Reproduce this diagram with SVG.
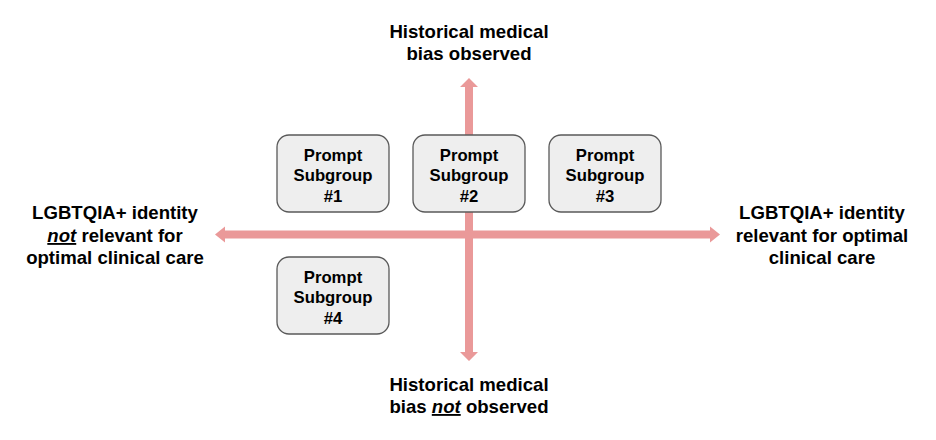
<svg xmlns="http://www.w3.org/2000/svg" width="936" height="440" viewBox="0 0 936 440">
<style>
.lbl{font-family:"Liberation Sans",Arial,sans-serif;font-weight:bold;font-size:18.6px;fill:#000;text-anchor:middle}
.bt{font-family:"Liberation Sans",Arial,sans-serif;font-weight:bold;font-size:16.7px;fill:#000;text-anchor:middle}
.box{fill:#eeeeee;stroke:#595959;stroke-width:1.3}
.arr{fill:#ea9999}
.neg{font-style:italic;text-decoration:underline}
</style>
<rect width="936" height="440" fill="#fff"/>
<g id="connectors">
<polygon class="arr" points="465,87 460,87 469,78 478,87 473,87 473,352 478,352 469,361 460,352 465,352"/>
<polygon class="arr" points="225,230.5 225,226.5 215,234.5 225,242.5 225,238.5 710,238.5 710,242.5 720,234.5 710,226.5 710,230.5"/>
</g>
<g id="label-top">
<text class="lbl" x="469" y="38">Historical medical</text>
<text class="lbl" x="469" y="60">bias observed</text>
</g>
<g id="label-bottom">
<text class="lbl" x="469" y="391">Historical medical</text>
<text class="lbl" x="469" y="413">bias <tspan class="neg">not</tspan> observed</text>
</g>
<g id="label-left">
<text class="lbl" x="115" y="219">LGBTQIA+ identity</text>
<text class="lbl" x="115" y="242"><tspan class="neg">not</tspan> relevant for</text>
<text class="lbl" x="115" y="264">optimal clinical care</text>
</g>
<g id="label-right">
<text class="lbl" x="822" y="219">LGBTQIA+ identity</text>
<text class="lbl" x="822" y="242">relevant for optimal</text>
<text class="lbl" x="822" y="264">clinical care</text>
</g>
<g id="subgroup1">
<rect class="box" x="277" y="135" width="112" height="77" rx="12"/>
<text class="bt" x="333" y="161">Prompt</text>
<text class="bt" x="333" y="181">Subgroup</text>
<text class="bt" x="333" y="202">#1</text>
</g>
<g id="subgroup2">
<rect class="box" x="413" y="135" width="112" height="77" rx="12"/>
<text class="bt" x="469" y="161">Prompt</text>
<text class="bt" x="469" y="181">Subgroup</text>
<text class="bt" x="469" y="202">#2</text>
</g>
<g id="subgroup3">
<rect class="box" x="549" y="135" width="112" height="77" rx="12"/>
<text class="bt" x="605" y="161">Prompt</text>
<text class="bt" x="605" y="181">Subgroup</text>
<text class="bt" x="605" y="202">#3</text>
</g>
<g id="subgroup4">
<rect class="box" x="277" y="257" width="112" height="77" rx="12"/>
<text class="bt" x="333" y="283">Prompt</text>
<text class="bt" x="333" y="303">Subgroup</text>
<text class="bt" x="333" y="324">#4</text>
</g>
</svg>
